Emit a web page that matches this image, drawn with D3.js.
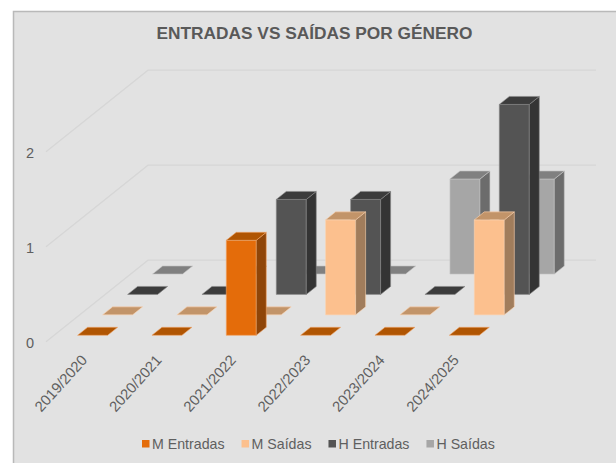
<!DOCTYPE html>
<html>
<head>
<meta charset="utf-8">
<script src="https://d3js.org/d3.v7.min.js"></script>
<style>
  html, body { margin: 0; padding: 0; background: #fff; }
  svg { display: block; }
  text { font-family: "Liberation Sans", Arial, sans-serif; }
</style>
</head>
<body>
<div id="chart"></div>
<script>
const categories = ["2019/2020", "2020/2021", "2021/2022", "2022/2023", "2023/2024", "2024/2025"];
const seriesNames = ["M Entradas", "M Saídas", "H Entradas", "H Saídas"];
const mEntradas = [0, 0, 1, 0, 0, 0];
const mSaidas = [0, 0, 0, 1, 0, 1];
const hEntradas = [0, 0, 1, 1, 0, 2];
const hSaidas = [0, 0, 0, 0, 1, 1];
const yTicks = [0, 1, 2];
const title = "ENTRADAS VS SAÍDAS POR GÉNERO";

const seriesValues = [mEntradas, mSaidas, hEntradas, hSaidas];
const palette = [
    { front: "#e46c0a", top: "#b05502", side: "#8f4508", edge: "#f0a468" },
    { front: "#fcc08e", top: "#c29469", side: "#a17d5c", edge: "#fcd3b0" },
    { front: "#545454", top: "#3c3c3c", side: "#343434", edge: "#8a8a8a" },
    { front: "#a6a6a6", top: "#808080", side: "#6c6c6c", edge: "#c4c4c4" }
];

const width = 616, height = 463;
const barWidth = 30;
const depth = { x: 10, y: -8 };

const svg = d3.select("#chart").append("svg")
    .attr("width", width)
    .attr("height", height);

// Chart panel, runs off the right and bottom of the window
svg.append("rect")
    .attr("x", 13.5)
    .attr("y", 11.5)
    .attr("width", width)
    .attr("height", height)
    .attr("fill", "#e2e2e2")
    .attr("stroke", "#b9b9b9")
    .attr("stroke-width", 1.5);

svg.append("text")
    .attr("x", 314.5)
    .attr("y", 38.5)
    .attr("text-anchor", "middle")
    .attr("font-size", 17.3)
    .attr("font-weight", "bold")
    .attr("fill", "#595959")
    .text(title);

// Scales: category along x, series goes back into the picture, value goes up
const x = d3.scalePoint().domain(categories).range([77.6, 449.3]);
const seriesX = d3.scalePoint().domain(seriesNames).range([0, 75]);
const seriesY = d3.scalePoint().domain(seriesNames).range([335.3, 274]);
const barHeight = d3.scaleLinear().domain([0, 2]).range([0, 190]);
const y = d3.scaleLinear().domain([0, 2]).range([341.7, 151.7]);

// Grid: a wall line and a slanted floor line per tick
const grid = svg.append("g").attr("fill", "none").attr("stroke", "#d6d6d6").attr("stroke-width", 1.3);
grid.selectAll("path")
    .data(yTicks)
    .join("path")
    .attr("d", d => `M46,${y(d)}L148,${y(d) - 81.5}L596,${y(d) - 81.5}`);

// Y axis
svg.append("g")
    .attr("transform", "translate(34,1)")
    .call(d3.axisLeft(y).tickValues(yTicks).tickSize(0).tickPadding(0).tickFormat(d3.format("d")))
    .call(g => g.select(".domain").remove())
    .selectAll("text")
    .attr("dy", "0.32em")
    .attr("font-size", 14.5)
    .attr("font-family", "Liberation Sans")
    .attr("fill", "#5f5f5f");

// Bars, back row first so the front rows cover it
const rows = seriesNames.map((name, s) => ({ name, s })).reverse();
rows.forEach(row => {
    const c = palette[row.s];
    const bars = categories.map((cat, i) => ({
        x: x(cat) + seriesX(row.name),
        floor: seriesY(row.name),
        h: barHeight(seriesValues[row.s][i])
    }));

    const g = svg.append("g").attr("stroke", c.edge).attr("stroke-width", 0.6).attr("stroke-linejoin", "round");

    bars.forEach(b => {
        const top = b.floor - b.h;
        if (b.h > 0) {
            g.append("rect")
                .attr("x", b.x)
                .attr("y", top)
                .attr("width", barWidth)
                .attr("height", b.h)
                .attr("fill", c.front);
            g.append("path")
                .attr("d", `M${b.x + barWidth},${top}l${depth.x},${depth.y}v${b.h}l${-depth.x},${-depth.y}Z`)
                .attr("fill", c.side);
        }
        g.append("path")
            .attr("d", `M${b.x},${top}l${depth.x},${depth.y}h${barWidth}l${-depth.x},${-depth.y}Z`)
            .attr("fill", c.top);
    });
});

// Category labels
svg.append("g")
    .selectAll("text")
    .data(categories)
    .join("text")
    .attr("transform", d => `translate(${x(d) + 7},${357.5}) rotate(-48)`)
    .attr("text-anchor", "end")
    .attr("dy", "0.32em")
    .attr("font-size", 14.8)
    .attr("fill", "#5f5f5f")
    .text(d => d);

// Legend
let legendX = 142;
seriesNames.forEach((name, s) => {
    svg.append("rect")
        .attr("x", legendX)
        .attr("y", 440)
        .attr("width", 7.5)
        .attr("height", 7.5)
        .attr("fill", palette[s].front);
    const label = svg.append("text")
        .attr("x", legendX + 10)
        .attr("y", 449)
        .attr("font-size", 14.2)
        .attr("fill", "#5f5f5f")
        .text(name);
    legendX += 10 + label.node().getComputedTextLength() + 17;
});
</script>
</body>
</html>
